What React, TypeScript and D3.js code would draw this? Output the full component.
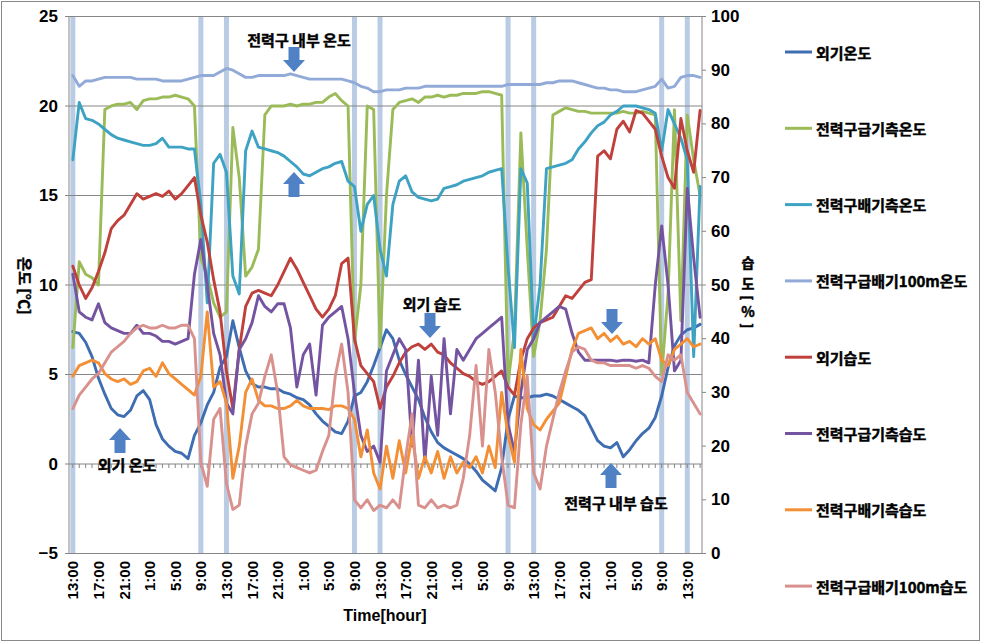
import React from 'react';
import * as d3 from 'd3';

// ---- categories (hours since 13:00 on day 1) ----
const hours = d3.range(0, 99);
const labelHours = d3.range(0, 97, 4);
const bandHours = [0, 20, 24, 44, 48, 68, 72, 92, 96];
const leftTicks = [-5, 0, 5, 10, 15, 20, 25];
const rightTicks = [0, 10, 20, 30, 40, 50, 60, 70, 80, 90, 100];

// ---- temperature series (°C, left axis) ----
const outTemp = [7.4,7.3,6.8,6.0,4.8,3.9,3.1,2.75,2.65,3.0, 3.8,4.1,3.6,2.2,1.4,1.0,0.7,0.6,0.3,1.6, 2.3,3.3,4.0,5.4,6.0,8.0,6.5,5.2,4.5,4.3, 4.3,4.2,4.2,4.0,3.9,3.7,3.6,3.3,2.8,2.4, 2.1,1.8,1.7,2.4,3.8,4.0,4.6,5.5,6.5,7.5, 7.0,5.8,5.0,4.3,3.6,2.6,1.8,1.2,0.9,0.7, 0.5,0.3,0.0,-0.4,-0.9,-1.2,-1.5,-0.2,2.5,3.8, 3.7,3.7,3.8,3.8,3.9,3.8,3.6,3.4,3.2,3.0, 2.7,2.0,1.3,1.0,0.9,1.2,0.4,0.8,1.3,1.7, 2.0,2.6,3.8,5.4,6.6,7.2,7.5,7.6,7.8];
const supplyTemp = [6.5,11.3,10.6,10.4,10.0,19.8,20.0,20.1,20.1,20.2, 19.8,20.3,20.4,20.4,20.5,20.5,20.6,20.5,20.4,20.0, 11.5,10.5,9.0,8.2,8.5,18.8,16.0,10.5,11.0,12.0, 19.5,20.0,20.0,20.0,20.1,20.0,20.1,20.1,20.2,20.2, 20.5,20.7,20.3,20.0,6.8,10.0,20.0,19.8,6.5,15.0, 19.8,20.2,20.3,20.4,20.2,20.5,20.5,20.6,20.5,20.6, 20.6,20.7,20.7,20.7,20.8,20.8,20.7,20.6,4.5,7.5, 18.5,12.0,6.0,8.0,12.0,19.5,19.7,19.9,19.8,19.7, 19.7,19.6,19.6,19.6,19.6,19.6,19.7,19.6,19.6,19.7, 19.6,19.5,5.0,9.5,19.8,8.0,19.5,17.0,15.0];
const exhaustTemp = [17.0,20.2,19.3,19.2,19.0,18.7,18.4,18.2,18.1,18.0, 17.9,17.8,17.8,17.9,18.2,17.7,17.7,17.7,17.6,17.6, 14.5,9.0,16.8,17.3,16.3,10.5,9.5,17.5,18.6,17.7, 17.6,17.5,17.4,17.2,16.9,16.6,16.2,16.1,16.3,16.5, 16.6,16.8,16.9,15.8,15.5,13.0,14.5,15.0,12.0,10.5, 14.5,15.8,16.1,15.2,14.9,14.8,14.7,14.8,15.4,15.5, 15.6,15.8,15.9,16.0,16.1,16.3,16.4,16.5,11.0,6.5, 16.5,15.7,7.0,10.0,16.5,16.6,16.7,16.8,17.0,17.6, 18.0,18.5,18.9,19.1,19.5,19.7,20.0,20.0,20.0,19.9, 19.8,19.6,17.5,19.8,19.0,18.2,17.0,6.0,15.5];
const mid100Temp = [21.7,21.1,21.4,21.4,21.5,21.6,21.6,21.6,21.6,21.6, 21.5,21.5,21.5,21.5,21.4,21.4,21.4,21.4,21.5,21.6, 21.7,21.7,21.7,21.9,22.1,22.0,21.8,21.6,21.6,21.7, 21.7,21.7,21.7,21.7,21.8,21.7,21.6,21.5,21.5,21.5, 21.5,21.5,21.5,21.4,21.3,21.1,21.0,20.8,20.8,20.9, 20.9,20.9,21.0,21.0,21.0,21.1,21.1,21.1,21.1,21.1, 21.1,21.1,21.1,21.1,21.1,21.1,21.1,21.1,21.2,21.2, 21.2,21.2,21.2,21.2,21.3,21.3,21.4,21.4,21.4,21.3, 21.2,21.1,21.0,21.0,20.9,20.9,20.8,20.8,20.8,20.9, 21.0,21.1,21.5,21.0,21.1,21.6,21.7,21.7,21.6];

// ---- humidity series (%, right axis) ----
const outHum = [53.5,50.0,47.5,49.5,52.5,56.0,60.5,62.0,63.0,65.0, 67.0,66.0,66.5,67.0,66.5,67.5,66.0,67.0,68.5,70.0, 63.0,58.0,51.0,45.0,34.0,27.0,38.0,46.0,48.5,49.0, 48.5,48.0,50.0,52.5,55.0,53.0,50.5,48.0,45.5,44.0, 45.5,48.0,54.0,55.0,40.0,35.0,33.5,32.0,27.0,31.0, 33.0,35.5,37.5,38.5,39.0,38.0,39.0,37.5,37.0,35.5, 34.5,33.5,33.0,32.0,31.5,32.0,33.0,34.0,31.0,29.5, 36.0,40.0,42.0,43.0,43.5,44.0,46.0,48.0,47.5,49.0, 50.5,51.0,74.0,75.0,73.5,79.0,80.5,78.5,82.5,82.0, 80.5,79.0,74.0,70.0,68.0,81.0,75.0,71.0,82.5];
const supplyHum = [52,45,44,43.5,46.5,43,42,41.5,41,41, 42.5,41,41,40.5,39.5,39.5,39,39.5,40,52, 58.5,50,41,37,28,26,38,40,43,48, 46,45,46.5,46.5,42,31,37,39,29.5,42.5, 44,45,46,40,30,22,19,20,17,34, 37,40,38,20,36,17,33,22,40,26, 38,36,38,40,41,42,43,44,24,19, 30,38,40,43,44,45,46,45.5,41,37.5, 36,36,36,36,36,35.8,36,36,35.8,36, 35.5,50,61,50,34,36,68,55,44];
const exhaustHum = [33,35,35.5,36,35.5,33.5,32.5,32,32.5,31.5, 32,34,34.5,33,35.5,33.5,32.5,31.5,30.5,29.5, 33,45,31,32,28,14,20,30,32.5,28.5, 27.5,27.5,27,27,27.5,28.5,27.5,27,27,27, 26.8,27.5,27.5,27,25,18,23,15,12,20, 14,21,15,22,14,18,15,19,14,18, 15,17,16,18,15,20,16,30,22,17, 38,27,24,23,25,26.5,28,33,38,41, 41.5,42,40,41,39.5,40.5,39,39.5,38.5,40, 39,40,36,35,38,39,40,38.5,39];
const mid100Hum = [27,29.5,31,32.5,33.5,35.5,37.5,38.5,39.5,41, 42,42.5,42,42,42.5,42,42,42.5,42.5,40, 17,12.5,25,27,13,8.2,9,20,26,28, 33,37,30,18,16.5,16,15.5,15,15.5,19, 22,33,39,30,10,8.5,10,8,9,8.5, 10,8.5,18,26,9,8.5,10,8.5,9,8.5, 9,14,22,35,20,38,30,18,9,8.5, 24,33,15,12,20,25,30,34,37.5,38.5, 38,36,35.5,35.5,35,35,35,35,34.5,35, 34.5,33,32,37,36,37,30,28,26];

const seriesNames = ['외기온도','전력구급기측온도','전력구배기측온도','전력구급배기100m온도','외기습도','전력구급기측습도','전력구배기측습도','전력구급배기100m습도'];
const seriesColors = ['#3e6db2','#9bbb59','#3ea2c3','#92aad8','#c0403c','#7454a0','#f39036','#d9918e'];
const seriesAxis = ['T','T','T','T','H','H','H','H'];
const seriesValues = [outTemp, supplyTemp, exhaustTemp, mid100Temp, outHum, supplyHum, exhaustHum, mid100Hum];

const annotations = [
  { text: '전력구 내부 온도', x: 299, y: 39 },
  { text: '외기 습도', x: 432, y: 303 },
  { text: '외기 온도', x: 127, y: 464 },
  { text: '전력구 내부 습도', x: 616, y: 502 },
];
const arrows = [
  { cx: 294, top: 47, down: true },
  { cx: 294, top: 172, down: false },
  { cx: 430, top: 313, down: true },
  { cx: 120, top: 428, down: false },
  { cx: 612, top: 309, down: true },
  { cx: 611, top: 463, down: false },
];
// right-axis title pieces, stacked vertically
const rightTitle = [
  { ch: '습', y: 262, rot: false },
  { ch: '도', y: 283, rot: false },
  { ch: '[', y: 298, rot: true },
  { ch: '%', y: 311, rot: false },
  { ch: ']', y: 326, rot: true },
];

const W = 981, H = 642;
const L = 69, R = 702, T = 16.5, B = 553.5;
const numFont = '"Liberation Sans", Arial, sans-serif';
const krFont = '"Noto Sans CJK KR", "Noto Sans", sans-serif';

function arrowPath(cx: number, top: number, down: boolean) {
  const hw = 11, sw = 5.5, len = 25, head = 12;
  if (down) {
    const y1 = top, y2 = top + len - head, y3 = top + len;
    return `M${cx - sw},${y1}L${cx + sw},${y1}L${cx + sw},${y2}L${cx + hw},${y2}L${cx},${y3}L${cx - hw},${y2}L${cx - sw},${y2}Z`;
  }
  const y1 = top, y2 = top + head, y3 = top + len;
  return `M${cx},${y1}L${cx + hw},${y2}L${cx + sw},${y2}L${cx + sw},${y3}L${cx - sw},${y3}L${cx - sw},${y2}L${cx - hw},${y2}Z`;
}

const krText = { fontFamily: krFont, fontWeight: 700, fill: '#000', stroke: '#000', strokeWidth: 0.45 } as const;

export default function App() {
  const x = d3.scaleLinear().domain([-0.6, 98.3]).range([L, R]);
  const yT = d3.scaleLinear().domain([-5, 25]).range([B, T]);
  const yH = d3.scaleLinear().domain([0, 100]).range([B, T]);
  const hourTicks = d3.range(0, 99);
  const legendY = d3.range(8).map(i => 52 + i * 76.3);

  return (
    <svg width={W} height={H} style={{ position: 'absolute', left: 0, top: 0, background: '#fff' }}>
      <rect x={1.5} y={1.5} width={W - 3} height={H - 3} fill="#fff" stroke="#8a8a8a" strokeWidth={1} />
      {/* bands */}
      {bandHours.map(h => (
        <rect key={'b' + h} x={x(h) - 2.5} y={T} width={5} height={B - T} fill="#b9cce4" />
      ))}
      {/* gridlines */}
      {leftTicks.map(v => (
        <line key={'g' + v} x1={L} x2={R} y1={yT(v)} y2={yT(v)} stroke="#868686" strokeWidth={1} />
      ))}
      <line x1={L} x2={L} y1={T} y2={B} stroke="#868686" />
      <line x1={R} x2={R} y1={T} y2={B} stroke="#868686" />
      {hourTicks.map(h => (
        <line key={'t' + h} x1={x(h)} x2={x(h)} y1={yT(0)} y2={yT(0) + 4} stroke="#868686" />
      ))}
      {leftTicks.map(v => (
        <line key={'lt' + v} x1={L - 4} x2={L} y1={yT(v)} y2={yT(v)} stroke="#868686" />
      ))}
      {rightTicks.map(v => (
        <line key={'rt' + v} x1={R} x2={R + 4} y1={yH(v)} y2={yH(v)} stroke="#868686" />
      ))}
      {/* series */}
      {seriesValues.map((vals, i) => {
        const ys = seriesAxis[i] === 'T' ? yT : yH;
        const line = d3.line<number>().x((_, j) => x(hours[j])).y(v => ys(v));
        return (
          <path key={'s' + i} d={line(vals) || ''} fill="none" stroke={seriesColors[i]}
            strokeWidth={2.9} strokeLinejoin="round" strokeLinecap="round" />
        );
      })}
      {/* axis labels */}
      {leftTicks.map(v => (
        <text key={'ll' + v} x={58} y={yT(v)} textAnchor="end" dominantBaseline="central"
          fontFamily={numFont} fontWeight="bold" fontSize={17} fill="#000">{v < 0 ? '−' + Math.abs(v) : v}</text>
      ))}
      {rightTicks.map(v => (
        <text key={'rl' + v} x={711} y={yH(v)} textAnchor="start" dominantBaseline="central"
          fontFamily={numFont} fontWeight="bold" fontSize={17} fill="#000">{v}</text>
      ))}
      {labelHours.map(h => (
        <text key={'xl' + h} x={x(h)} y={561} transform={`rotate(-90, ${x(h)}, 561)`} textAnchor="end"
          dominantBaseline="central" fontFamily={numFont} fontWeight="bold" fontSize={15} fill="#000">
          {`${(13 + h) % 24}:00`}
        </text>
      ))}
      <text x={385} y={615} textAnchor="middle" dominantBaseline="central" fontFamily={numFont}
        fontWeight="bold" fontSize={16} fill="#000">Time[hour]</text>
      <text x={25} y={286} transform="rotate(90, 25, 286)" textAnchor="middle" dominantBaseline="central"
        {...krText} fontSize={15}>온도 [℃]</text>
      {rightTitle.map((c, i) => (
        <text key={'rtt' + i} x={748} y={c.y} textAnchor="middle" dominantBaseline="central"
          transform={c.rot ? `rotate(90, 748, ${c.y})` : undefined} {...krText} fontSize={14}>{c.ch}</text>
      ))}
      {/* legend */}
      {seriesNames.map((n, i) => (
        <g key={'lg' + i}>
          <line x1={785} x2={812} y1={legendY[i]} y2={legendY[i]} stroke={seriesColors[i]} strokeWidth={3} />
          <text x={816} y={legendY[i]} dominantBaseline="central" {...krText} fontSize={15}>{n}</text>
        </g>
      ))}
      {/* annotations */}
      {arrows.map((a, i) => (
        <path key={'ar' + i} d={arrowPath(a.cx, a.top, a.down)} fill="#4f81c4" />
      ))}
      {annotations.map((a, i) => (
        <text key={'an' + i} x={a.x} y={a.y} textAnchor="middle" dominantBaseline="central"
          {...krText} fontSize={15}>{a.text}</text>
      ))}
    </svg>
  );
}
